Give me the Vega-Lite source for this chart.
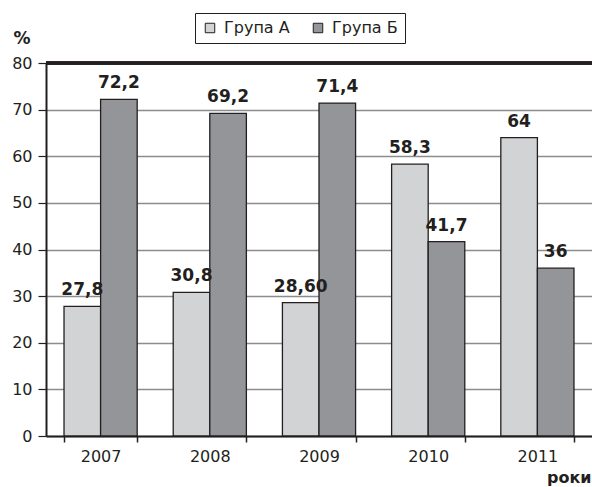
{
  "$schema": "https://vega.github.io/schema/vega-lite/v6.json",
  "width": 546,
  "height": 373,
  "autosize": "none",
  "padding": {"left": 46, "top": 63, "right": 0, "bottom": 51},
  "background": "white",
  "config": {"view": {"stroke": null}, "font": "DejaVu Sans"},
  "data": {
    "values": [
      {"year": "2007", "group": "Група А", "value": 27.8, "label": "27,8"},
      {"year": "2007", "group": "Група Б", "value": 72.2, "label": "72,2"},
      {"year": "2008", "group": "Група А", "value": 30.8, "label": "30,8"},
      {"year": "2008", "group": "Група Б", "value": 69.2, "label": "69,2"},
      {"year": "2009", "group": "Група А", "value": 28.6, "label": "28,60"},
      {"year": "2009", "group": "Група Б", "value": 71.4, "label": "71,4"},
      {"year": "2010", "group": "Група А", "value": 58.3, "label": "58,3"},
      {"year": "2010", "group": "Група Б", "value": 41.7, "label": "41,7"},
      {"year": "2011", "group": "Група А", "value": 64, "label": "64"},
      {"year": "2011", "group": "Група Б", "value": 36, "label": "36"}
    ]
  },
  "encoding": {
    "x": {
      "field": "year", "type": "nominal",
      "scale": {"paddingInner": 0.33, "paddingOuter": 0.165},
      "axis": {
        "title": "роки", "titleFont": "DejaVu Sans", "titleFontWeight": "bold", "titleFontSize": 16,
        "titleAlign": "right", "titleAnchor": null, "titleX": 545, "titleY": 46, "titleBaseline": "alphabetic",
        "titleColor": "#231f20",
        "labelAngle": 0, "labelFont": "DejaVu Sans", "labelFontSize": 16, "labelColor": "#231f20", "labelPadding": 6,
        "tickBand": "extent", "tickSize": 6, "tickColor": "#231f20", "tickWidth": 1.5,
        "domainColor": "#231f20", "domainWidth": 2
      }
    },
    "xOffset": {"field": "group", "scale": {"paddingInner": 0, "paddingOuter": 0}},
    "y": {
      "field": "value", "type": "quantitative",
      "scale": {"domain": [0, 80], "nice": false},
      "axis": {
        "values": [0, 10, 20, 30, 40, 50, 60, 70, 80],
        "title": "%", "titleAngle": 0, "titleFont": "DejaVu Sans", "titleFontWeight": "bold", "titleFontSize": 17,
        "titleX": -33, "titleY": -20, "titleAlign": "left", "titleBaseline": "alphabetic", "titleColor": "#231f20",
        "labelFont": "DejaVu Sans", "labelFontSize": 16, "labelColor": "#231f20", "labelPadding": 6,
        "tickSize": 8, "tickColor": "#231f20", "tickWidth": 1.2,
        "domainColor": "#231f20", "domainWidth": 2,
        "grid": true, "gridColor": "#8c8c8c", "gridWidth": 1.3
      }
    }
  },
  "layer": [
    {
      "mark": {"type": "bar", "stroke": "#231f20", "strokeWidth": 1.3},
      "encoding": {
        "color": {
          "field": "group", "type": "nominal",
          "scale": {"range": ["#d2d3d5", "#939598"]},
          "legend": {
            "title": null, "orient": "none", "legendX": 149, "legendY": -50,
            "direction": "horizontal", "strokeColor": "#231f20", "fillColor": "white",
            "padding": 7, "symbolType": "square", "symbolSize": 90,
            "symbolStrokeColor": "#231f20", "symbolStrokeWidth": 1, "symbolOpacity": 1,
            "labelFont": "DejaVu Sans", "labelFontSize": 16, "labelColor": "#231f20", "labelOffset": 6,
            "columnPadding": 20
          }
        }
      }
    },
    {
      "mark": {"type": "text", "dy": -11, "baseline": "alphabetic", "font": "DejaVu Sans", "fontWeight": "bold", "fontSize": 17, "color": "#231f20"},
      "encoding": {"text": {"field": "label"}}
    },
    {
      "mark": {"type": "rule", "color": "#231f20", "strokeWidth": 2.5},
      "encoding": {"y": {"datum": 80}, "x": null, "xOffset": null}
    }
  ]
}
